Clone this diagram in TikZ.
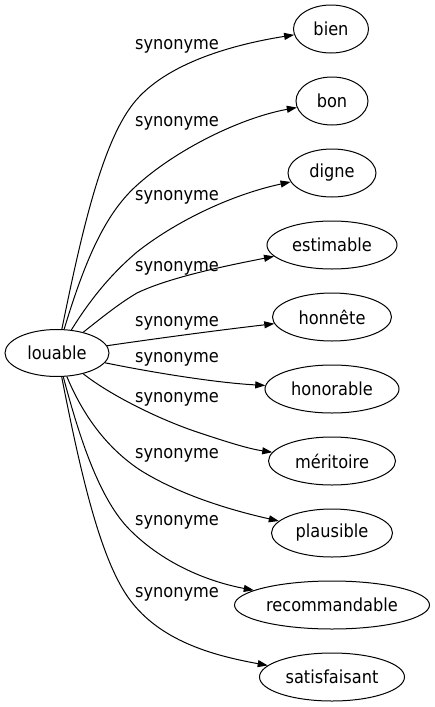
\documentclass[tikz,border=0pt]{standalone}
\usepackage{fontspec}
\setmainfont{DejaVu Sans Condensed}
\usetikzlibrary{arrows.meta,shapes.geometric}
\begin{document}
\begin{tikzpicture}[x=1pt,y=-1pt,
  every node/.style={font=\fontsize{18}{20}\selectfont},
  word/.style={draw, ellipse, line width=1pt, minimum height=48pt, inner sep=0pt},
  lab/.style={inner sep=0pt},
  edge/.style={draw, line width=1pt, -{Triangle[length=10pt,width=7pt]}}]
\useasboundingbox (0,0) rectangle (435,707);
\node[word, minimum width=104pt, minimum height=47pt] (louable) at (57,353) {louable};
\node[word, minimum width=75pt]  (bien) at (331,29) {bien};
\node[word, minimum width=72pt]  (bon) at (332,101) {bon};
\node[word, minimum width=88pt]  (digne) at (332,173) {digne};
\node[word, minimum width=130pt] (estimable) at (332,245) {estimable};
\node[word, minimum width=119pt] (honnete) at (332,317) {honnête};
\node[word, minimum width=134pt] (honorable) at (332,389) {honorable};
\node[word, minimum width=127pt] (meritoire) at (332,461) {méritoire};
\node[word, minimum width=121pt] (plausible) at (332,533) {plausible};
\node[word, minimum width=195pt] (recommandable) at (332,605) {recommandable};
\node[word, minimum width=145pt] (satisfaisant) at (332,677) {satisfaisant};

\node[lab] (l1) at (177,46) {synonyme};
\node[lab] (l2) at (177,123) {synonyme};
\node[lab] (l3) at (177,197) {synonyme};
\node[lab] (l4) at (177,268) {synonyme};
\node[lab] (l5) at (177,323) {synonyme};
\node[lab] (l6) at (177,359) {synonyme};
\node[lab] (l7) at (177,399) {synonyme};
\node[lab] (l8) at (177,455) {synonyme};
\node[lab] (l9) at (177,522) {synonyme};
\node[lab] (l10) at (177,594) {synonyme};

\draw[edge] (louable) .. controls (80,240) and (100,150) .. (130,108) .. controls (160,65) and (230,45) .. (bien);
\draw[edge] (louable) .. controls (85,260) and (105,215) .. (135,187) .. controls (175,150) and (240,118) .. (bon);
\draw[edge] (louable) .. controls (90,300) and (110,275) .. (137,252) .. controls (175,222) and (230,195) .. (digne);
\draw[edge] (louable) .. controls (105,315) and (120,303) .. (137,293) .. controls (170,277) and (230,265) .. (estimable);
\draw[edge] (louable) .. controls (160,338) and (220,330) .. (honnete);
\draw[edge] (louable) .. controls (160,374) and (220,383) .. (honorable);
\draw[edge] (louable) .. controls (110,395) and (160,420) .. (200,433) .. controls (230,443) and (250,449) .. (meritoire);
\draw[edge] (louable) .. controls (85,420) and (110,450) .. (140,470) .. controls (180,495) and (230,510) .. (plausible);
\draw[edge] (louable) .. controls (80,440) and (100,500) .. (130,530) .. controls (165,565) and (210,582) .. (recommandable);
\draw[edge] (louable) .. controls (80,470) and (100,560) .. (130,600) .. controls (160,640) and (210,655) .. (satisfaisant);
\end{tikzpicture}
\end{document}
